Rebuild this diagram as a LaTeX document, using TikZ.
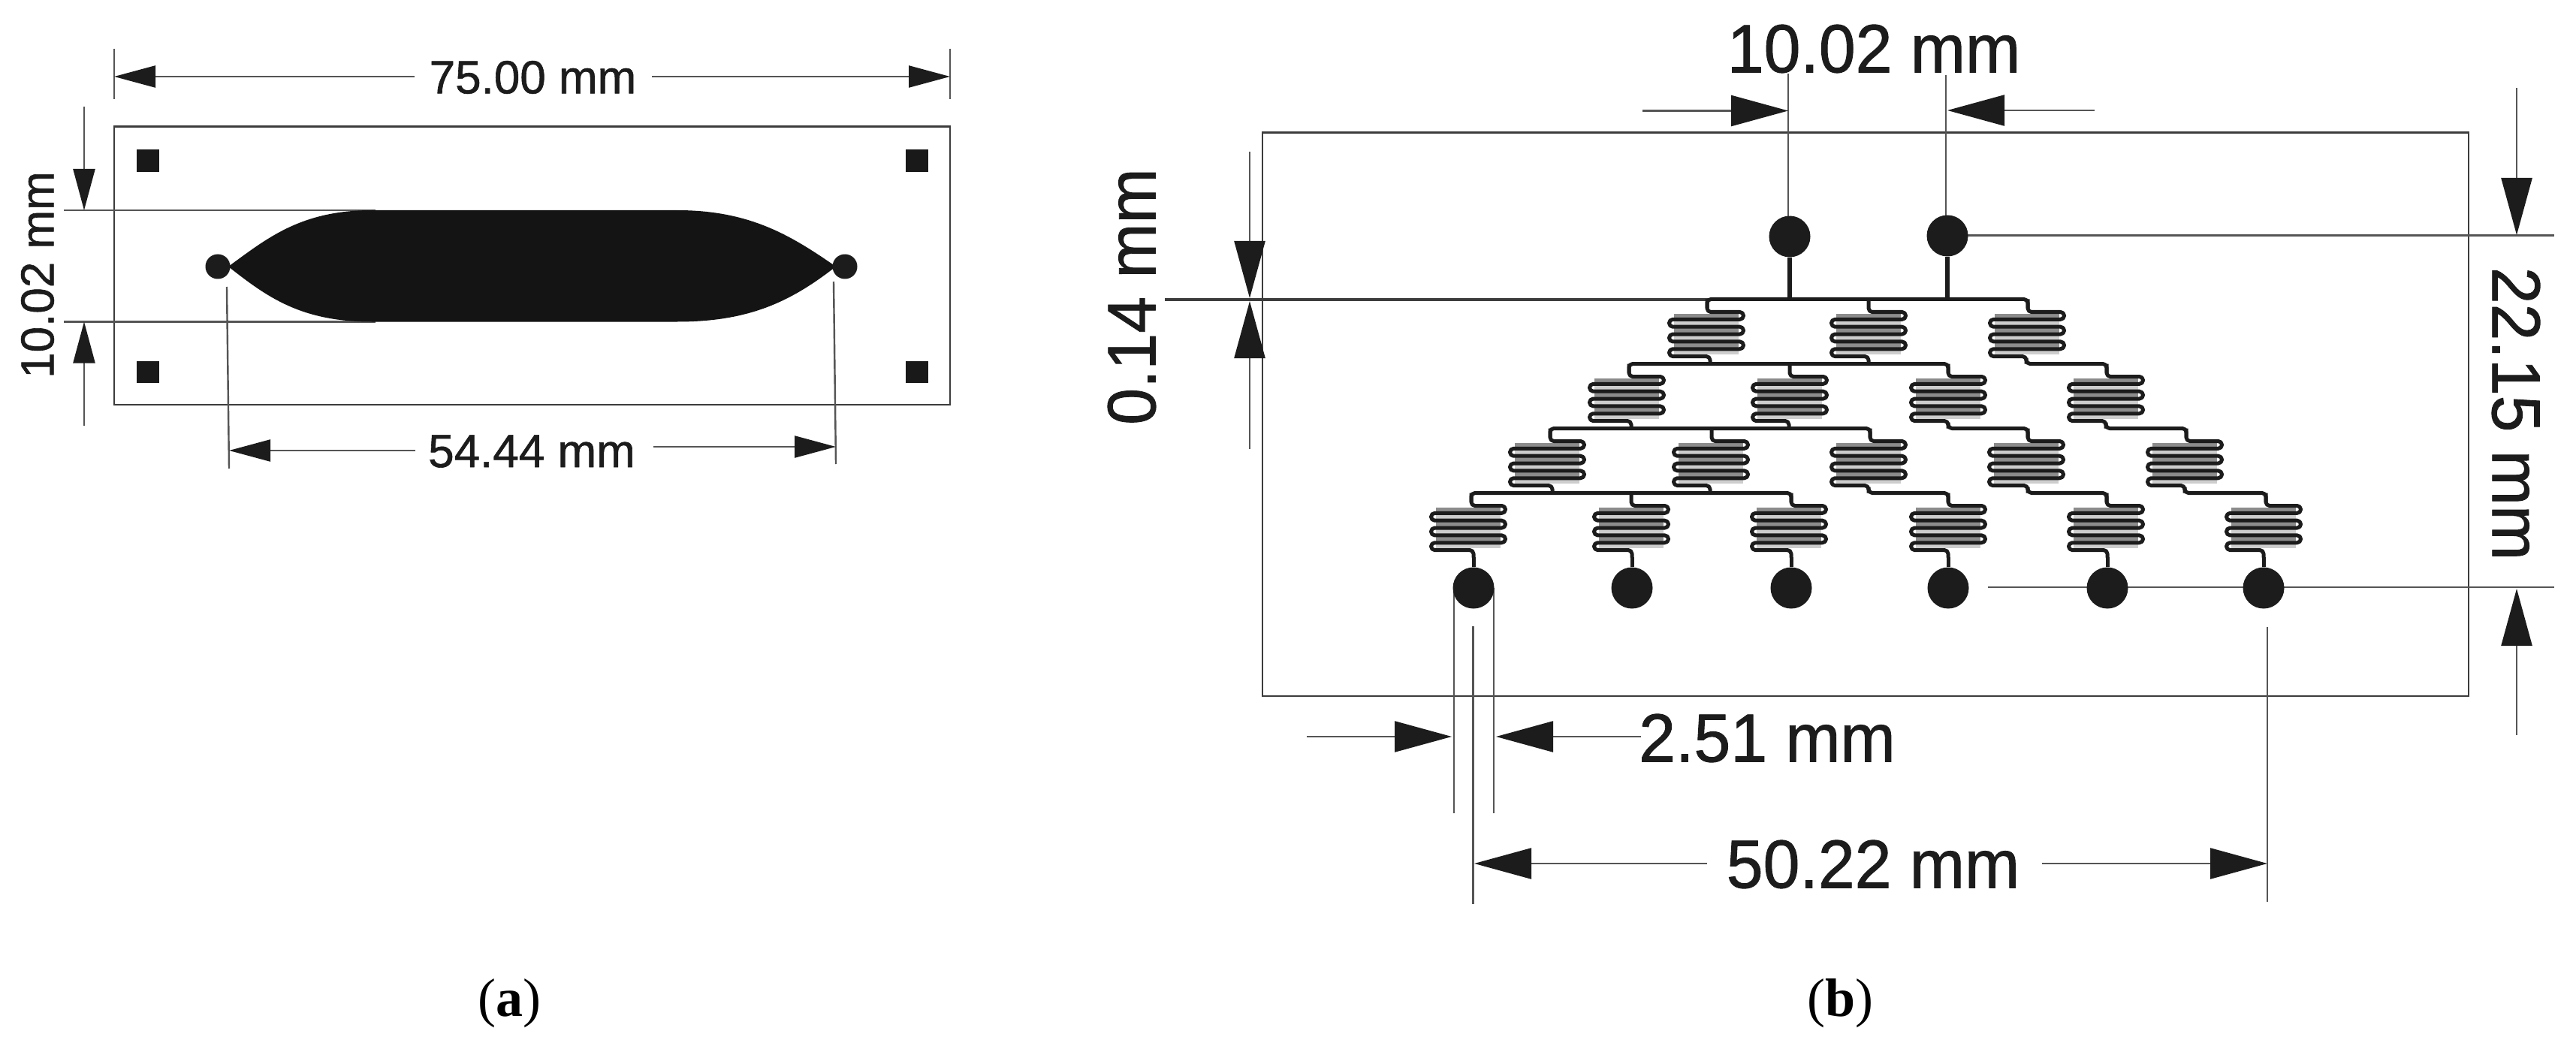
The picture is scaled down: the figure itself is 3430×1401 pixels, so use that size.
\documentclass[tikz,border=0pt]{standalone}
\usepackage{fontspec}
\setmainfont{Liberation Sans}
\newfontfamily\dimfont[RawFeature={embolden=1.0}]{Liberation Sans}
\newfontfamily\capfont{Liberation Serif}
\usetikzlibrary{arrows.meta}
\definecolor{ink}{HTML}{1C1C1C}
\definecolor{thin}{HTML}{555555}
\definecolor{gapa}{HTML}{8C8C8C}
\definecolor{gapb}{HTML}{CDCDCD}
\tikzset{
  thinline/.style={draw=thin,line width=1.2pt},
  frame/.style={draw=thin!70!black,line width=1.4pt},
  trace/.style={draw=ink,line width=2.5pt,line cap=butt,line join=round},
  smallhead/.style={thinline,-{Triangle[length=27.5pt,width=14.5pt,color=ink]}},
  bighead/.style={thinline,-{Triangle[length=38pt,width=20.5pt,color=ink]}},
  pad/.style={circle,fill=ink,inner sep=0pt,minimum size=27.5pt},
  minipad/.style={circle,fill=ink,inner sep=0pt,minimum size=16.5pt},
  smalltext/.style={text=ink,inner sep=0pt,font=\fontsize{31}{31}\selectfont\dimfont},
  bigtext/.style={text=ink,inner sep=0pt,font=\fontsize{45.5}{45.5}\selectfont\dimfont},
  captext/.style={text=black,inner sep=0pt,anchor=base,font=\fontsize{36}{36}\selectfont\capfont},
}
\newcommand{\bigscale}[1]{\scalebox{0.965}[1]{#1}}
% block centre, bus y, entry x, exit x
\newcommand{\meander}[4]{%
  \foreach \k/\c in {0/gapa,1/gapb,2/gapa,3/gapb,4/gapa,5/gapb}
    \draw[draw=\c,line width=2.7pt] ({#1-43},{#2+21.9+9.85*\k}) -- ({#1+43},{#2+21.9+9.85*\k});
  \draw[trace,rounded corners=2.45pt] (#3,#2) -- (#3,#2+17)
    -- ({#1+49.5},{#2+17}) -- ({#1+49.5},{#2+26.85})
    -- ({#1-49.5},{#2+26.85}) -- ({#1-49.5},{#2+36.7})
    -- ({#1+49.5},{#2+36.7}) -- ({#1+49.5},{#2+46.55})
    -- ({#1-49.5},{#2+46.55}) -- ({#1-49.5},{#2+56.4})
    -- ({#1+49.5},{#2+56.4}) -- ({#1+49.5},{#2+66.25})
    -- ({#1-49.5},{#2+66.25}) -- ({#1-49.5},{#2+76.1})
    -- (#4,{#2+76.1}) -- (#4,#2+86);}
% bus with rounded ends
\newcommand{\busline}[3]{%
  \draw[trace,rounded corners=2.5pt] (#1,#3+12) -- (#1,#3) -- (#2,#3) -- (#2,#3+12);}
\newcommand{\jogline}[3]{%
  \draw[trace,rounded corners=2.5pt] (#1,#3-8) -- (#1,#3) -- (#2,#3) -- (#2,#3+12);}
\begin{document}
\begin{tikzpicture}[x=0.5pt,y=-0.5pt]
\useasboundingbox (0,0) rectangle (3430,1401);
\fill[white] (0,0) rectangle (3430,1401);

%%% Panel (a)
\draw[frame] (152,168.5) rectangle (1265,539);
\fill[black!90] (182,199) rectangle (212,229);
\fill[black!90] (1206,199) rectangle (1236,229);
\fill[black!90] (182,481) rectangle (212,510);
\fill[black!90] (1206,481) rectangle (1236,510);
% extension lines
\draw[thinline] (152,65) -- (152,132);
\draw[thinline] (1265,65) -- (1265,132);
\draw[thinline] (85,280) -- (500,280);
\draw[thinline] (85,428.5) -- (500,428.5);
\draw[thinline] (302,382) -- (305,624);
\draw[thinline] (1110,375) -- (1113,618);
% blob
\fill[black!92] (304,355) .. controls (355,318) and (400,280) .. (495,280)
  -- (902,280) .. controls (1000,280) and (1055,315) .. (1113,355)
  .. controls (1055,400) and (1000,428.5) .. (902,428.5)
  -- (495,428.5) .. controls (400,428.5) and (355,395) .. (304,355) -- cycle;
\node[minipad] (aleft) at (290,355) {};
\node[minipad] (aright) at (1125,355) {};
% dimensions
\node[smalltext] (t75) at (709.5,103) {75.00 mm};
\draw[smallhead] (552,102) -- (152,102);
\draw[smallhead] (868,102) -- (1265,102);
\node[smalltext] (t54) at (708,601) {54.44 mm};
\draw[smallhead] (553,600) -- (305,600);
\draw[smallhead] (870,595) -- (1113,595);
\node[smalltext,rotate=90] (t10a) at (50,366) {10.02 mm};
\draw[smallhead] (112,142) -- (112,280);
\draw[smallhead] (112,567) -- (112,428.5);
\node[captext] (capa) at (678.5,1353) {(\textbf{a})};

%%% Panel (b)
\draw[frame] (1681,176.5) rectangle (3287,927);
% extension lines
\draw[thinline] (2381,98) -- (2381,300);
\draw[thinline] (2591,100) -- (2591,300);
\draw[thinline] (2593,313.5) -- (3401,313.5);
\draw[thinline] (2647,782) -- (3401,782);
\draw[thinline] (1936,783) -- (1936,1083);
\draw[thinline] (1989,783) -- (1989,1083);
\draw[thinline] (1961.5,834) -- (1961.5,1204);
\draw[thinline] (3019,835) -- (3019,1201);
\draw[draw=thin!70!black,line width=1.7pt] (1551,399) -- (2276,399);
% dimension arrows
\draw[bighead] (2187,147.5) -- (2381,147.5);
\draw[bighead] (2789,147) -- (2593,147);
\draw[bighead] (1664,202) -- (1664,397);
\draw[bighead] (1664,598) -- (1664,401);
\draw[bighead] (3351,117) -- (3351,313);
\draw[bighead] (3351,979) -- (3351,784);
\draw[bighead] (1740,981) -- (1933,981);
\draw[bighead] (2185,981) -- (1992,981);
\draw[bighead] (2273,1150) -- (1963,1150);
\draw[bighead] (2719,1150) -- (3019,1150);
% texts
\node[bigtext] (t10b) at (2495,65) {\bigscale{10.02 mm}};
\node[bigtext,rotate=90] (t014) at (1507,395) {\bigscale{0.14 mm}};
\node[bigtext,rotate=-90] (t22) at (3350,551) {\bigscale{22.15 mm}};
\node[bigtext] (t251) at (2353,983) {\bigscale{2.51 mm}};
\node[bigtext] (t50) at (2494,1151) {\bigscale{50.22 mm}};
\node[captext] (capb) at (2450,1353) {(\textbf{b})};

% pads
\node[pad] (tp1) at (2383,315) {};
\node[pad] (tp2) at (2593,314) {};
\node[pad] (bp1) at (1962,783) {};
\node[pad] (bp2) at (2173,783) {};
\node[pad] (bp3) at (2385,783) {};
\node[pad] (bp4) at (2594,783) {};
\node[pad] (bp5) at (2806,783) {};
\node[pad] (bp6) at (3014,783) {};
\coordinate (busa) at (2400,398.5);
\coordinate (busb) at (2400,742);
\draw[trace,line width=2.6pt] (tp1.south) -- (tp1.south |- busa);
\draw[trace,line width=2.6pt] (tp2.south) -- (tp2.south |- busa);
\foreach \n in {1,...,6}
  \draw[trace] (bp\n.north) -- (bp\n.north |- busb);

% buses
\busline{2273}{2700}{398.5}
\busline{2169}{2594}{484.5}
\busline{2064}{2490}{570.5}
\busline{1959}{2385}{656.5}
\jogline{2698}{2805}{484.5}
\jogline{2594}{2700}{570.5}
\jogline{2804}{2911}{570.5}
\jogline{2488}{2594}{656.5}
\jogline{2700}{2805}{656.5}
\jogline{2909}{3017}{656.5}

% meanders
\meander{2272}{398.5}{2273}{2277}
\meander{2488}{398.5}{2488}{2488}
\meander{2699}{398.5}{2700}{2698}
\meander{2166}{484.5}{2169}{2172}
\meander{2383}{484.5}{2383}{2382}
\meander{2594}{484.5}{2594}{2594}
\meander{2804}{484.5}{2805}{2804}
\meander{2060}{570.5}{2064}{2067}
\meander{2278}{570.5}{2279}{2277}
\meander{2488}{570.5}{2490}{2488}
\meander{2698}{570.5}{2700}{2700}
\meander{2909}{570.5}{2911}{2909}
\meander{1955}{656.5}{1959}{1962}
\meander{2172}{656.5}{2172}{2173}
\meander{2382}{656.5}{2385}{2385}
\meander{2594}{656.5}{2594}{2594}
\meander{2804}{656.5}{2805}{2806}
\meander{3014}{656.5}{3017}{3014}
\end{tikzpicture}
\end{document}
